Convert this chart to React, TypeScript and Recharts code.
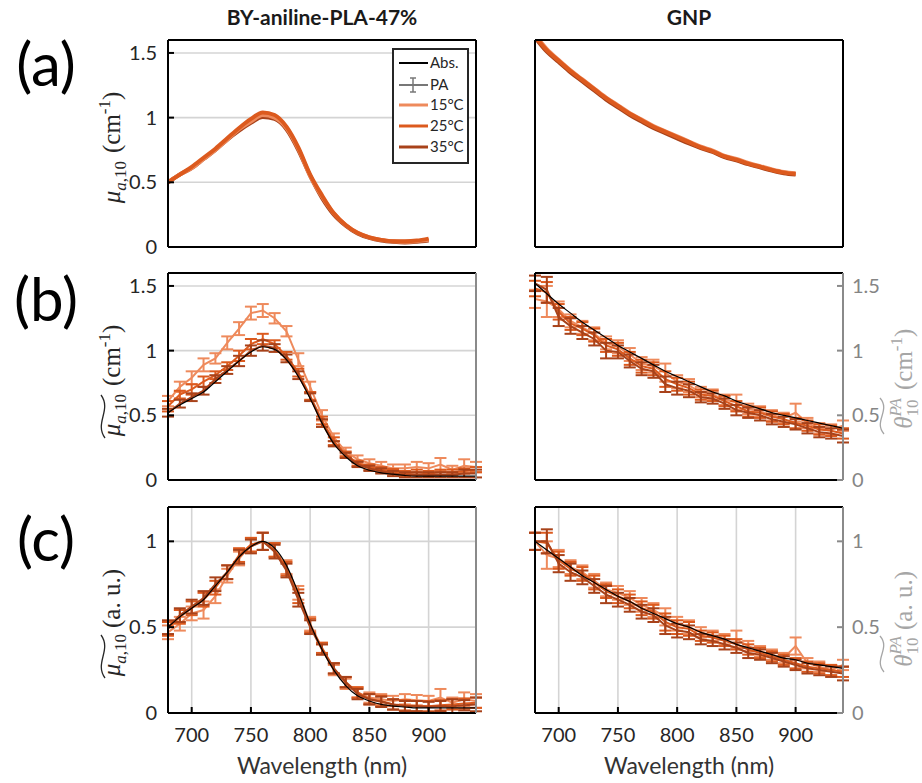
import React from 'react';
import { LineChart, Line, XAxis, YAxis, CartesianGrid, ErrorBar } from 'recharts';

const FONT = 'Lato, "Open Sans", sans-serif';
const MATH = '"Liberation Serif", "DejaVu Serif", serif';

const XT = [700, 750, 800, 850, 900];
const YT_16 = [0, 0.5, 1, 1.5];
const YT_12 = [0, 0.5, 1];

// Wavelengths
const WL_ABS = [680, 690, 700, 710, 720, 730, 740, 750, 760, 770, 780, 790, 800, 810, 820, 830, 840, 850, 860, 870, 880, 890, 900];
const WL = [680, 690, 700, 710, 720, 730, 740, 750, 760, 770, 780, 790, 800, 810, 820, 830, 840, 850, 860, 870, 880, 890, 900, 910, 920, 930, 940];

// (a) BY-aniline-PLA-47% absorbance
const aL15 = [0.50, 0.56, 0.61, 0.68, 0.75, 0.83, 0.91, 0.97, 1.02, 1.00, 0.92, 0.76, 0.55, 0.39, 0.26, 0.17, 0.11, 0.075, 0.055, 0.045, 0.04, 0.045, 0.055];
const aL25 = [0.50, 0.56, 0.62, 0.69, 0.76, 0.84, 0.92, 0.99, 1.04, 1.02, 0.93, 0.77, 0.56, 0.40, 0.26, 0.17, 0.11, 0.075, 0.055, 0.045, 0.045, 0.05, 0.065];
const aL35 = [0.50, 0.56, 0.61, 0.68, 0.75, 0.83, 0.90, 0.96, 1.005, 0.99, 0.91, 0.75, 0.55, 0.38, 0.25, 0.165, 0.105, 0.07, 0.05, 0.04, 0.035, 0.04, 0.05];
// (a) GNP absorbance
const aR15 = [1.64, 1.53, 1.445, 1.365, 1.295, 1.225, 1.155, 1.095, 1.035, 0.985, 0.935, 0.895, 0.855, 0.815, 0.775, 0.745, 0.705, 0.68, 0.65, 0.625, 0.6, 0.58, 0.57];
const aR25 = [1.63, 1.52, 1.44, 1.36, 1.29, 1.22, 1.15, 1.09, 1.03, 0.98, 0.93, 0.89, 0.85, 0.81, 0.77, 0.74, 0.70, 0.675, 0.645, 0.62, 0.595, 0.575, 0.565];
const aR35 = [1.62, 1.51, 1.43, 1.35, 1.28, 1.21, 1.14, 1.08, 1.02, 0.97, 0.92, 0.88, 0.84, 0.80, 0.765, 0.735, 0.695, 0.67, 0.64, 0.615, 0.59, 0.57, 0.56];

// (b) BY-aniline-PLA-47% PA
const bLabs = [0.52, 0.58, 0.63, 0.68, 0.76, 0.84, 0.92, 0.99, 1.03, 1.01, 0.93, 0.80, 0.63, 0.44, 0.28, 0.18, 0.11, 0.075, 0.055, 0.045, 0.035, 0.03, 0.03, 0.03, 0.03, 0.03, 0.03];
const bL15 = [0.61, 0.72, 0.79, 0.89, 0.94, 1.06, 1.17, 1.29, 1.31, 1.25, 1.15, 0.93, 0.72, 0.50, 0.33, 0.22, 0.16, 0.13, 0.11, 0.09, 0.09, 0.10, 0.09, 0.12, 0.08, 0.11, 0.10];
const bL25 = [0.57, 0.66, 0.70, 0.76, 0.81, 0.88, 0.96, 1.05, 1.09, 1.05, 0.96, 0.83, 0.65, 0.46, 0.30, 0.20, 0.13, 0.10, 0.08, 0.065, 0.05, 0.06, 0.05, 0.06, 0.06, 0.07, 0.08];
const bL35 = [0.52, 0.59, 0.64, 0.69, 0.78, 0.85, 0.92, 1.00, 1.04, 1.02, 0.94, 0.81, 0.64, 0.44, 0.28, 0.19, 0.12, 0.09, 0.07, 0.05, 0.04, 0.04, 0.04, 0.04, 0.04, 0.05, 0.05];
const bL15e = [0.04, 0.04, 0.05, 0.05, 0.04, 0.05, 0.05, 0.05, 0.05, 0.04, 0.04, 0.05, 0.04, 0.04, 0.03, 0.03, 0.03, 0.03, 0.03, 0.03, 0.03, 0.04, 0.04, 0.05, 0.03, 0.05, 0.04];
const bL25e = [0.04, 0.03, 0.04, 0.04, 0.03, 0.03, 0.04, 0.04, 0.04, 0.03, 0.03, 0.03, 0.03, 0.03, 0.03, 0.02, 0.02, 0.02, 0.02, 0.02, 0.02, 0.02, 0.02, 0.02, 0.02, 0.02, 0.02];
const bL35e = [0.03, 0.03, 0.03, 0.03, 0.03, 0.03, 0.04, 0.04, 0.04, 0.03, 0.03, 0.03, 0.03, 0.03, 0.02, 0.02, 0.02, 0.02, 0.02, 0.02, 0.02, 0.02, 0.02, 0.02, 0.02, 0.03, 0.03];

// (b) GNP PA
const bRabs = [1.52, 1.44, 1.36, 1.29, 1.22, 1.16, 1.10, 1.04, 0.99, 0.94, 0.89, 0.84, 0.80, 0.76, 0.72, 0.68, 0.65, 0.61, 0.58, 0.55, 0.52, 0.50, 0.48, 0.46, 0.44, 0.42, 0.40];
const bR15 = [1.40, 1.38, 1.32, 1.23, 1.18, 1.13, 1.06, 1.03, 0.97, 0.90, 0.88, 0.83, 0.76, 0.73, 0.68, 0.66, 0.62, 0.60, 0.55, 0.53, 0.50, 0.48, 0.52, 0.44, 0.40, 0.39, 0.42];
const bR25 = [1.48, 1.45, 1.30, 1.21, 1.17, 1.12, 1.04, 1.01, 0.94, 0.88, 0.86, 0.78, 0.74, 0.71, 0.66, 0.65, 0.61, 0.57, 0.53, 0.52, 0.49, 0.47, 0.44, 0.42, 0.39, 0.38, 0.36];
const bR35 = [1.52, 1.47, 1.26, 1.19, 1.14, 1.09, 1.00, 0.99, 0.92, 0.86, 0.84, 0.74, 0.71, 0.69, 0.64, 0.63, 0.59, 0.54, 0.52, 0.50, 0.47, 0.45, 0.43, 0.40, 0.37, 0.36, 0.34];
const bR15e = [0.07, 0.12, 0.06, 0.05, 0.05, 0.05, 0.05, 0.05, 0.05, 0.05, 0.05, 0.07, 0.05, 0.05, 0.04, 0.04, 0.04, 0.06, 0.04, 0.04, 0.04, 0.04, 0.07, 0.04, 0.04, 0.04, 0.04];
const bR25e = [0.06, 0.08, 0.06, 0.05, 0.05, 0.05, 0.05, 0.05, 0.05, 0.05, 0.05, 0.06, 0.05, 0.05, 0.04, 0.04, 0.04, 0.04, 0.04, 0.04, 0.04, 0.04, 0.04, 0.04, 0.04, 0.04, 0.04];
const bR35e = [0.06, 0.10, 0.07, 0.06, 0.05, 0.05, 0.06, 0.05, 0.05, 0.05, 0.05, 0.06, 0.05, 0.05, 0.04, 0.04, 0.04, 0.04, 0.04, 0.04, 0.04, 0.04, 0.04, 0.04, 0.04, 0.04, 0.05];

// (c) BY-aniline-PLA-47% normalised
const cLabs = [0.50, 0.56, 0.61, 0.66, 0.74, 0.82, 0.91, 0.97, 1.00, 0.96, 0.86, 0.70, 0.52, 0.37, 0.25, 0.16, 0.10, 0.07, 0.05, 0.04, 0.035, 0.03, 0.03, 0.03, 0.03, 0.03, 0.03];
const cL15 = [0.47, 0.52, 0.58, 0.60, 0.68, 0.80, 0.90, 0.98, 1.00, 0.95, 0.85, 0.70, 0.52, 0.37, 0.25, 0.17, 0.12, 0.09, 0.08, 0.07, 0.08, 0.075, 0.07, 0.09, 0.06, 0.08, 0.07];
const cL25 = [0.49, 0.56, 0.61, 0.66, 0.73, 0.82, 0.92, 0.98, 1.00, 0.95, 0.84, 0.68, 0.51, 0.38, 0.26, 0.18, 0.12, 0.08, 0.07, 0.05, 0.045, 0.04, 0.04, 0.045, 0.05, 0.055, 0.06];
const cL35 = [0.50, 0.57, 0.62, 0.67, 0.75, 0.82, 0.91, 0.97, 1.00, 0.94, 0.83, 0.66, 0.50, 0.37, 0.26, 0.18, 0.11, 0.08, 0.065, 0.05, 0.04, 0.04, 0.035, 0.04, 0.04, 0.045, 0.05];
const cL15e = [0.04, 0.04, 0.04, 0.05, 0.04, 0.04, 0.04, 0.04, 0.05, 0.04, 0.04, 0.04, 0.04, 0.03, 0.03, 0.03, 0.03, 0.03, 0.03, 0.03, 0.03, 0.03, 0.03, 0.05, 0.03, 0.04, 0.04];
const cL25e = [0.04, 0.04, 0.04, 0.04, 0.04, 0.04, 0.04, 0.04, 0.05, 0.04, 0.04, 0.04, 0.04, 0.03, 0.03, 0.03, 0.03, 0.03, 0.03, 0.03, 0.03, 0.03, 0.03, 0.03, 0.03, 0.03, 0.03];
const cL35e = [0.04, 0.04, 0.04, 0.04, 0.04, 0.04, 0.04, 0.04, 0.05, 0.04, 0.04, 0.04, 0.04, 0.03, 0.03, 0.03, 0.03, 0.03, 0.03, 0.03, 0.03, 0.03, 0.03, 0.03, 0.04, 0.03, 0.04];

// (c) GNP normalised
const cRabs = [1.00, 0.95, 0.90, 0.85, 0.80, 0.76, 0.72, 0.68, 0.65, 0.61, 0.58, 0.55, 0.52, 0.50, 0.47, 0.45, 0.43, 0.40, 0.38, 0.36, 0.34, 0.32, 0.31, 0.29, 0.28, 0.27, 0.26];
const cR15 = [1.00, 0.92, 0.90, 0.85, 0.82, 0.77, 0.72, 0.70, 0.67, 0.63, 0.60, 0.56, 0.52, 0.50, 0.47, 0.45, 0.43, 0.43, 0.39, 0.36, 0.34, 0.32, 0.39, 0.29, 0.27, 0.25, 0.28];
const cR25 = [1.00, 0.99, 0.89, 0.84, 0.81, 0.76, 0.71, 0.68, 0.65, 0.61, 0.59, 0.53, 0.50, 0.49, 0.45, 0.44, 0.42, 0.40, 0.37, 0.35, 0.33, 0.31, 0.29, 0.27, 0.26, 0.25, 0.24];
const cR35 = [1.00, 1.00, 0.87, 0.82, 0.79, 0.74, 0.69, 0.66, 0.63, 0.59, 0.57, 0.51, 0.48, 0.47, 0.43, 0.42, 0.40, 0.38, 0.35, 0.34, 0.32, 0.30, 0.28, 0.26, 0.25, 0.24, 0.23];
const cR15e = [0.05, 0.08, 0.05, 0.04, 0.04, 0.04, 0.04, 0.04, 0.04, 0.04, 0.04, 0.05, 0.04, 0.04, 0.03, 0.03, 0.03, 0.05, 0.03, 0.03, 0.03, 0.03, 0.05, 0.03, 0.03, 0.03, 0.03];
const cR25e = [0.05, 0.06, 0.05, 0.04, 0.04, 0.04, 0.04, 0.04, 0.04, 0.04, 0.04, 0.05, 0.04, 0.04, 0.03, 0.03, 0.03, 0.03, 0.03, 0.03, 0.03, 0.03, 0.03, 0.03, 0.03, 0.03, 0.03];
const cR35e = [0.05, 0.07, 0.05, 0.05, 0.04, 0.04, 0.05, 0.04, 0.04, 0.04, 0.04, 0.05, 0.04, 0.04, 0.03, 0.03, 0.03, 0.03, 0.03, 0.03, 0.03, 0.03, 0.03, 0.03, 0.03, 0.03, 0.04];

const C15 = '#EE8A5C';
const C25 = '#DC5A1E';
const C35 = '#A8421A';
const CABS = '#000000';

const mk = (wl: number[], v: number[], e?: number[]) =>
  wl.map((x, i) => ({ wl: x, v: v[i], e: e ? e[i] : 0 }));

type S = { id: string; data: any[]; color: string; w: number; curve: 'monotone' | 'linear'; err?: boolean };

type PanelProps = {
  left: number; top: number; w: number; h: number;
  yMax: number; yTicks: number[]; series: S[];
  showX: boolean; leftTicks: boolean; rightTicks: boolean; rightGray: boolean;
};

function Panel({ left, top, w, h, yMax, yTicks, series, showX, leftTicks, rightTicks, rightGray }: PanelProps) {
  const LA = 60, RA = 60, TA = 10, BA = 60;
  const black = { stroke: '#000', strokeWidth: 2 };
  const rc = rightGray ? '#8a8a8a' : '#000';
  const right = { stroke: rc, strokeWidth: 2 };
  return (
    <div style={{ position: 'absolute', left: left - LA, top: top - TA }}>
      <LineChart width={LA + w + RA} height={TA + h + BA} margin={{ top: 0, right: 0, bottom: 0, left: 0 }}>
        <CartesianGrid stroke="#d4d4d4" strokeWidth={1.6} />
        {series.map((s) => (
          <Line
            key={s.id}
            data={s.data}
            dataKey="v"
            type={s.curve}
            stroke={s.color}
            strokeWidth={s.w}
            dot={false}
            activeDot={false}
            isAnimationActive={false}
          >
            {s.err ? (
              <ErrorBar dataKey="e" width={6} stroke={s.color} strokeWidth={2} direction="y" isAnimationActive={false} />
            ) : null}
          </Line>
        ))}
        <XAxis
          xAxisId={0} type="number" dataKey="wl" domain={[680, 940]} allowDataOverflow ticks={XT} interval={0}
          height={BA} tickSize={-6} tickMargin={21} axisLine={black} tickLine={black}
          tick={showX ? { fill: '#262626', fontSize: 20, fontFamily: FONT } : false}
        />
        <XAxis
          xAxisId="top" orientation="top" type="number" dataKey="wl" domain={[680, 940]} allowDataOverflow ticks={XT} interval={0}
          height={TA} tickSize={-6} axisLine={black} tickLine={black} tick={false}
        />
        <YAxis
          yAxisId={0} type="number" domain={[0, yMax]} allowDataOverflow ticks={yTicks} interval={0}
          width={LA} tickSize={-6} tickMargin={17} axisLine={black} tickLine={black}
          tick={leftTicks ? { fill: '#262626', fontSize: 20, fontFamily: FONT } : false}
        />
        <YAxis
          yAxisId="r" orientation="right" type="number" domain={[0, yMax]} allowDataOverflow ticks={yTicks} interval={0}
          width={RA} tickSize={-6} tickMargin={15} axisLine={right} tickLine={right}
          tick={rightTicks ? { fill: '#858585', fontSize: 20, fontFamily: FONT } : false}
        />
      </LineChart>
    </div>
  );
}

function tildePath(a: number, b: number, y: number) {
  const L = b - a;
  return `M ${a} ${y + 2} C ${a + L * 0.35} ${y - 9} ${a + L * 0.65} ${y + 9} ${b} ${y - 2}`;
}

function MuLabel({ cx, cy, tilde, unit }: { cx: number; cy: number; tilde: boolean; unit: 'cm' | 'au' }) {
  const fs = 25, sfs = 17;
  const split = unit === 'cm' ? -18 : -22;
  return (
    <g transform={`translate(${cx},${cy}) rotate(-90)`} fill="#262626" fontFamily={MATH}>
      <text x={split} y={0} fontSize={fs} textAnchor="end">
        <tspan fontStyle="italic">μ</tspan>
        <tspan fontStyle="italic" fontSize={sfs} dy={6}>a</tspan>
        <tspan fontSize={sfs}>,10</tspan>
      </text>
      {tilde ? (
        <path d={tildePath(split - 44, split - 1, -17)} stroke="#262626" strokeWidth={1.3} fill="none" />
      ) : null}
      {unit === 'cm' ? (
        <text x={split + 8} y={0} fontSize={fs} textAnchor="start">
          <tspan>(cm</tspan>
          <tspan fontSize={sfs} dy={-10}>-1</tspan>
          <tspan dy={10}>)</tspan>
        </text>
      ) : (
        <text x={split + 6} y={0} fontSize={fs} textAnchor="start">(a.  u.)</text>
      )}
    </g>
  );
}

function ThetaLabel({ cx, cy, unit }: { cx: number; cy: number; unit: 'cm' | 'au' }) {
  const fs = 25, sfs = 17;
  const split = unit === 'cm' ? -20 : -24;
  const col = '#a6a6a6';
  return (
    <g transform={`translate(${cx},${cy}) rotate(-90)`} fill={col} fontFamily={MATH}>
      <text x={split} y={0} fontSize={fs} textAnchor="end">
        <tspan fontStyle="italic">θ</tspan>
        <tspan fontSize={sfs} dy={6}>10</tspan>
        <tspan fontSize={sfs} fontStyle="italic" dx={-17} dy={-17}>PA</tspan>
      </text>
      <path d={tildePath(split - 36, split, -30)} stroke={col} strokeWidth={1.3} fill="none" />
      {unit === 'cm' ? (
        <text x={split + 8} y={0} fontSize={fs} textAnchor="start">
          <tspan>(cm</tspan>
          <tspan fontSize={sfs} dy={-10}>-1</tspan>
          <tspan dy={10}>)</tspan>
        </text>
      ) : (
        <text x={split + 6} y={0} fontSize={fs} textAnchor="start">(a.  u.)</text>
      )}
    </g>
  );
}

function LegendBox() {
  const x0 = 393, y0 = 49, w = 75, h = 114;
  const items = [
    { label: 'Abs.', color: CABS, w: 2 },
    { label: 'PA', color: '#777777', w: 2, err: true },
    { label: '15°C', color: C15, w: 3 },
    { label: '25°C', color: C25, w: 3 },
    { label: '35°C', color: C35, w: 3 },
  ];
  const ys = [63, 85, 105, 126, 147];
  return (
    <g>
      <rect x={x0} y={y0} width={w} height={h} fill="#fff" stroke="#262626" strokeWidth={2} />
      {items.map((it, i) => (
        <g key={it.label}>
          <line x1={399} x2={428} y1={ys[i]} y2={ys[i]} stroke={it.color} strokeWidth={it.w} />
          {it.err ? (
            <g stroke={it.color} strokeWidth={1.5}>
              <line x1={413} x2={413} y1={ys[i] - 7} y2={ys[i] + 7} />
              <line x1={410} x2={416} y1={ys[i] - 7} y2={ys[i] - 7} />
              <line x1={410} x2={416} y1={ys[i] + 7} y2={ys[i] + 7} />
            </g>
          ) : null}
          <text x={430} y={ys[i] + 5} fontSize={15} fontFamily={FONT} fill="#262626">{it.label}</text>
        </g>
      ))}
    </g>
  );
}

export default function App() {
  const LX = 168, RX = 535, PW = 308;
  const rows = [
    { top: 40, h: 207 },
    { top: 273, h: 207 },
    { top: 507, h: 206 },
  ];
  const aLeft: S[] = [
    { id: 'a35', data: mk(WL_ABS, aL35), color: C35, w: 4, curve: 'monotone' },
    { id: 'a15', data: mk(WL_ABS, aL15), color: C15, w: 4, curve: 'monotone' },
    { id: 'a25', data: mk(WL_ABS, aL25), color: C25, w: 4, curve: 'monotone' },
  ];
  const aRight: S[] = [
    { id: 'a35', data: mk(WL_ABS, aR35), color: C35, w: 4, curve: 'monotone' },
    { id: 'a15', data: mk(WL_ABS, aR15), color: C15, w: 4, curve: 'monotone' },
    { id: 'a25', data: mk(WL_ABS, aR25), color: C25, w: 4, curve: 'monotone' },
  ];
  const pa = (abs: number[], v15: number[], e15: number[], v25: number[], e25: number[], v35: number[], e35: number[]): S[] => [
    { id: 'p15', data: mk(WL, v15, e15), color: C15, w: 2, curve: 'linear', err: true },
    { id: 'p25', data: mk(WL, v25, e25), color: C25, w: 2, curve: 'linear', err: true },
    { id: 'p35', data: mk(WL, v35, e35), color: C35, w: 2, curve: 'linear', err: true },
    { id: 'abs', data: mk(WL, abs), color: CABS, w: 1.2, curve: 'monotone' },
  ];
  const bLeft = pa(bLabs, bL15, bL15e, bL25, bL25e, bL35, bL35e);
  const bRight = pa(bRabs, bR15, bR15e, bR25, bR25e, bR35, bR35e);
  const cLeft = pa(cLabs, cL15, cL15e, cL25, cL25e, cL35, cL35e);
  const cRight = pa(cRabs, cR15, cR15e, cR25, cR25e, cR35, cR35e);

  return (
    <div style={{ position: 'absolute', left: 0, top: 0, width: 922, height: 783, background: '#fff', overflow: 'hidden' }}>
      <Panel left={LX} top={rows[0].top} w={PW} h={rows[0].h} yMax={1.6} yTicks={YT_16} series={aLeft} showX={false} leftTicks rightTicks={false} rightGray={false} />
      <Panel left={RX} top={rows[0].top} w={PW} h={rows[0].h} yMax={1.6} yTicks={YT_16} series={aRight} showX={false} leftTicks={false} rightTicks={false} rightGray={false} />
      <Panel left={LX} top={rows[1].top} w={PW} h={rows[1].h} yMax={1.6} yTicks={YT_16} series={bLeft} showX={false} leftTicks rightTicks={false} rightGray />
      <Panel left={RX} top={rows[1].top} w={PW} h={rows[1].h} yMax={1.6} yTicks={YT_16} series={bRight} showX={false} leftTicks={false} rightTicks rightGray />
      <Panel left={LX} top={rows[2].top} w={PW} h={rows[2].h} yMax={1.2} yTicks={YT_12} series={cLeft} showX leftTicks rightTicks={false} rightGray />
      <Panel left={RX} top={rows[2].top} w={PW} h={rows[2].h} yMax={1.2} yTicks={YT_12} series={cRight} showX leftTicks={false} rightTicks rightGray />
      <svg width={922} height={783} style={{ position: 'absolute', left: 0, top: 0, pointerEvents: 'none' }}>
        <text x={322} y={25} textAnchor="middle" fontFamily={FONT} fontWeight="bold" fontSize={21} fill="#1a1a1a">BY-aniline-PLA-47%</text>
        <text x={689} y={25} textAnchor="middle" fontFamily={FONT} fontWeight="bold" fontSize={21} fill="#1a1a1a">GNP</text>
        <text x={46} y={86} textAnchor="middle" fontFamily={FONT} fontSize={60} fill="#000">(a)</text>
        <text x={46} y={321} textAnchor="middle" fontFamily={FONT} fontSize={60} fill="#000">(b)</text>
        <text x={46} y={561} textAnchor="middle" fontFamily={FONT} fontSize={60} fill="#000">(c)</text>
        <MuLabel cx={120} cy={143} tilde={false} unit="cm" />
        <MuLabel cx={120} cy={376} tilde unit="cm" />
        <MuLabel cx={120} cy={612} tilde unit="au" />
        <ThetaLabel cx={912} cy={378} unit="cm" />
        <ThetaLabel cx={912} cy={612} unit="au" />
        <text x={322} y={774} textAnchor="middle" fontFamily={FONT} fontSize={23} fill="#333">Wavelength (nm)</text>
        <text x={689} y={774} textAnchor="middle" fontFamily={FONT} fontSize={23} fill="#333">Wavelength (nm)</text>
        <LegendBox />
      </svg>
    </div>
  );
}
